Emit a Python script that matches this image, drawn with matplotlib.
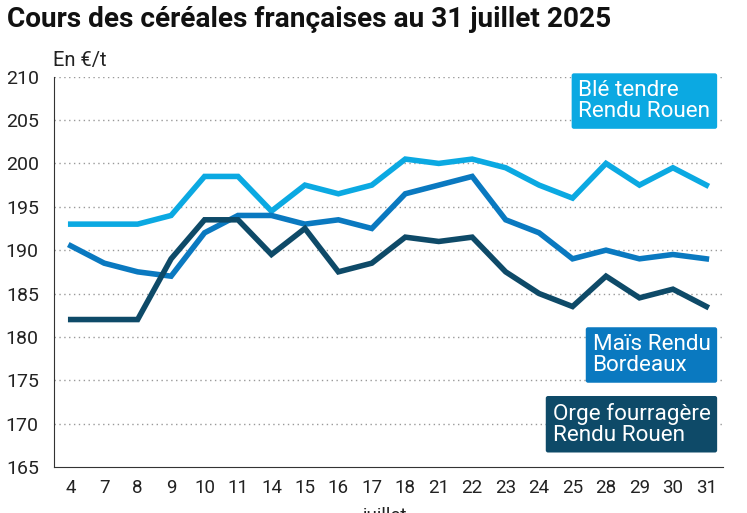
import matplotlib.pyplot as plt
import numpy as np

plt.rcParams['font.family'] = ['Roboto', 'DejaVu Sans']

jours = ['4', '7', '8', '9', '10', '11', '14', '15', '16', '17',
         '18', '21', '22', '23', '24', '25', '28', '29', '30', '31']

ble = [193, 193, 193, 194, 198.5, 198.5, 194.5, 197.5, 196.5, 197.5,
       200.5, 200, 200.5, 199.5, 197.5, 196, 200, 197.5, 199.5, 197.5]
mais = [190.5, 188.5, 187.5, 187, 192, 194, 194, 193, 193.5, 192.5,
        196.5, 197.5, 198.5, 193.5, 192, 189, 190, 189, 189.5, 189]
orge = [182, 182, 182, 189, 193.5, 193.5, 189.5, 192.5, 187.5, 188.5,
        191.5, 191, 191.5, 187.5, 185, 183.5, 187, 184.5, 185.5, 183.5]

c_ble = '#0BA9E2'
c_mais = '#0A79C0'
c_orge = '#0E4A68'

fig = plt.figure(figsize=(7.47, 5.13), dpi=100)
ax = fig.add_axes([0.0723, 0.0897, 0.8957, 0.7608])

x = np.arange(len(jours))
ax.plot(x, ble, color=c_ble, lw=4, solid_joinstyle='miter', zorder=3)
ax.plot(x, mais, color=c_mais, lw=4, solid_joinstyle='miter', zorder=3)
ax.plot(x, orge, color=c_orge, lw=4, solid_joinstyle='miter', zorder=3)

ax.set_xlim(-0.5, len(jours) - 0.5)
ax.set_ylim(165, 210)
ax.set_yticks(np.arange(165, 211, 5))
ax.set_xticks(x)
ax.set_xticklabels(jours)
ax.tick_params(axis='both', length=0, labelsize=13.5, colors='#222222')
ax.tick_params(axis='y', labelsize=14, pad=11)
ax.tick_params(axis='x', pad=9)
for yv in range(170, 211, 5):
    ax.axhline(yv, color='#999999', lw=1, ls=(0, (1, 2.5)), zorder=1)

for s in ['top', 'right']:
    ax.spines[s].set_visible(False)
ax.spines['left'].set_color('#333333')
ax.spines['bottom'].set_color('#333333')

fig.text(0.010, 0.962, 'Cours des céréales françaises au 31 juillet 2025',
         fontsize=20.2, fontweight='bold', color='#111111', va='center')
fig.text(0.071, 0.882, 'En €/t', fontsize=14.5, color='#222222', va='center')
fig.text(0.515, -0.005, 'juillet', fontsize=13.5, color='#222222',
         ha='center', va='center')

def etiquette(txt, y, col):
    fig.text(0.951, y, txt, fontsize=16.2, color='white', ha='right',
             va='center', multialignment='left', linespacing=1.0,
             bbox=dict(boxstyle='round,pad=0.3,rounding_size=0.1',
                       fc=col, ec='none'))

etiquette('Blé tendre\nRendu Rouen', 0.803, c_ble)
etiquette('Maïs Rendu\nBordeaux', 0.308, c_mais)
etiquette('Orge fourragère\nRendu Rouen', 0.173, c_orge)

fig.savefig('out.png', dpi=100)
